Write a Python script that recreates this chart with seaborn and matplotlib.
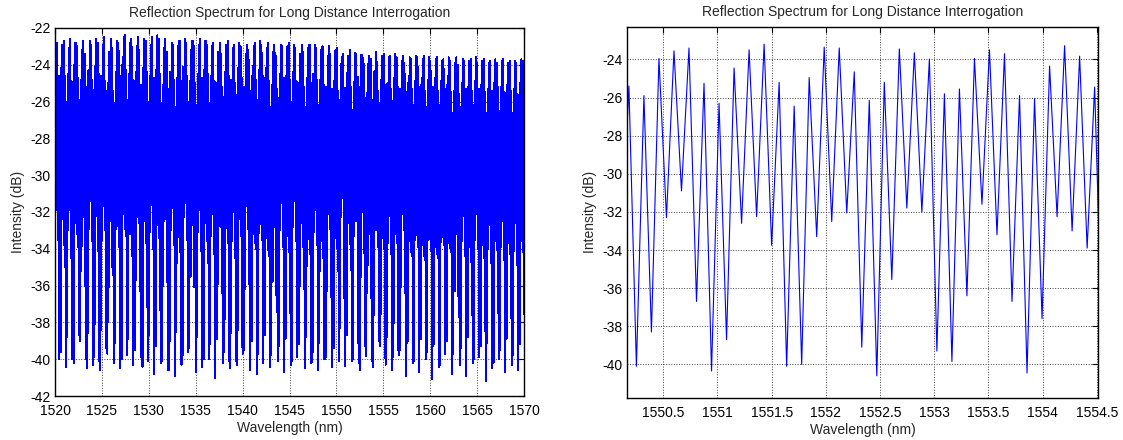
import numpy as np
import pandas as pd
import matplotlib
matplotlib.use("Agg")
import matplotlib.pyplot as plt
import seaborn as sns

#-------------1. DATA-------------

fsr_nm = 0.1386            # spacing between neighbouring fringe peaks
first_peak_nm = 1519.968   # wavelength of the first fringe peak

# peak level of every fringe (dB), one row per beat of the envelope
peaks_db = [
    -24.9, -23.0, -22.8, -24.6,
    -25.8, -24.2, -22.9, -22.7, -24.6,
    -26.0, -24.5, -23.1, -22.6, -24.9,
    -25.6, -24.0, -22.8, -23.0, -24.7,
    -25.9, -24.8, -23.2, -22.7, -23.4, -25.2,
    -26.2, -24.3, -22.7, -22.9, -24.8,
    -25.7, -24.1, -22.6, -22.8, -24.5,
    -26.0, -24.6, -22.9, -22.5, -24.9,
    -25.8, -25.0, -23.3, -22.6, -23.1, -25.4,
    -26.1, -24.4, -22.7, -22.8, -24.6,
    -25.6, -24.0, -22.5, -22.4, -24.3,
    -25.9, -24.5, -22.8, -22.6, -24.8,
    -26.2, -24.9, -23.0, -22.5, -23.2, -25.1,
    -25.7, -24.2, -22.6, -22.7, -24.4,
    -26.0, -24.6, -22.9, -22.5, -24.7,
    -25.8, -24.3, -22.4, -22.6, -24.5,
    -26.1, -25.1, -23.1, -22.6, -23.3, -25.3,
    -25.9, -24.4, -22.8, -22.9, -24.8,
    -26.3, -24.7, -23.0, -22.7, -24.9,
    -25.7, -24.1, -22.6, -22.8, -24.6,
    -26.0, -24.9, -23.2, -22.7, -23.0, -25.0,
    -26.2, -24.5, -22.9, -22.6, -24.7,
    -25.8, -24.3, -22.7, -22.9, -24.5,
    -26.1, -24.6, -23.0, -22.8, -24.9,
    -25.9, -25.0, -23.3, -22.8, -23.4, -25.2,
    -26.0, -24.4, -22.9, -22.7, -24.6,
    -26.3, -24.8, -23.1, -22.9, -25.0,
    -25.8, -24.2, -22.8, -23.0, -24.7,
    -26.1, -25.2, -23.4, -22.9, -23.2, -25.4,
    -26.2, -24.6, -23.0, -22.8, -24.8,
    -25.9, -24.3, -22.7, -22.9, -24.6,
    -26.0, -24.7, -23.1, -22.8, -24.9,
    -26.3, -25.1, -23.3, -22.9, -23.5, -25.3,
    -25.8, -24.5, -22.9, -23.0, -24.7,
    -26.1, -24.6, -23.0, -22.8, -24.8,
    -26.2, -24.4, -22.9, -23.1, -24.9,
    -25.9, -25.0, -23.4, -22.9, -23.3, -25.2,
    -26.3, -24.7, -23.1, -22.9, -25.0,
    -26.0, -24.5, -22.9, -23.1, -24.8,
    -26.2, -24.8, -23.2, -23.0, -25.1,
    -26.1, -25.2, -23.5, -23.0, -23.4, -25.3,
    -26.3, -24.9, -23.2, -23.1, -25.4,
    -25.9, -23.95, -23.55, -23.4, -25.25,
    -26.3, -24.45, -23.5, -23.2, -25.2,
    -26.45, -24.95, -23.35, -23.4, -24.65,
    -26.15, -25.2, -23.45, -23.65, -23.98,
    -25.8, -25.55, -23.95, -23.5, -23.7,
    -25.9, -26.05, -24.35, -23.28, -23.83, -25.45,
    -26.2, -24.8, -23.5, -23.4, -25.1,
    -26.4, -25.0, -23.6, -23.5, -25.3,
    -26.1, -24.7, -23.4, -23.6, -25.2,
    -26.3, -25.3, -23.8, -23.5, -23.9, -25.5,
    -26.5, -25.0, -23.6, -23.7, -25.3,
    -26.2, -24.9, -23.5, -23.6, -25.2,
    -26.4, -25.1, -23.7, -23.5, -25.4,
    -26.3, -24.8, -23.6, -23.8, -25.2,
    -26.5, -25.2, -23.7, -23.6, -25.4,
    -26.2, -24.9, -23.8, -23.7, -25.3,
    -26.4, -25.1, -23.6, -23.8, -25.5,
    -26.6, -25.4, -23.9, -23.6, -24.0, -25.6,
    -26.3, -25.0, -23.7, -23.8, -25.3,
    -26.5, -25.2, -23.8, -23.7, -25.4,
    -26.2, -24.9, -23.6, -23.9, -25.3,
    -26.4, -25.1, -23.8, -23.7, -25.5,
    -26.6, -25.3, -23.9, -23.8, -25.4,
    -26.3, -25.0, -23.7, -23.9, -25.2,
    -26.5, -25.2, -23.8, -23.7, -25.5,
    -26.4, -25.1, -23.9, -23.8, -25.4,
    -26.6, -25.3, -23.8, -23.9, -25.6,
    -26.3, -25.0, -23.7, -23.8, -25.3,
]

# level of the dip that follows each peak (dB)
troughs_db = [
    -33.0, -31.8, -33.5, -40.0,
    -39.6, -32.4, -31.5, -33.8, -40.4,
    -38.8, -33.0, -31.2, -34.5, -40.0,
    -40.2, -32.6, -31.8, -33.2, -38.7,
    -39.0, -35.2, -31.6, -32.3, -36.0, -40.5,
    -38.6, -32.9, -31.4, -33.6, -40.3,
    -39.9, -32.2, -31.0, -34.1, -40.6,
    -38.4, -33.5, -31.7, -33.0, -39.4,
    -39.7, -36.1, -31.9, -32.5, -35.4, -40.2,
    -39.1, -32.8, -31.3, -33.9, -40.5,
    -40.0, -32.1, -30.9, -33.3, -39.8,
    -38.9, -33.2, -31.5, -34.4, -40.3,
    -39.5, -35.7, -31.8, -32.6, -36.3, -39.9,
    -40.4, -32.5, -31.2, -33.7, -40.1,
    -38.7, -33.1, -31.6, -34.0, -40.8,
    -39.3, -32.7, -31.0, -33.4, -40.2,
    -40.1, -36.0, -31.7, -32.4, -35.8, -40.6,
    -39.0, -33.0, -31.4, -33.8, -40.9,
    -38.5, -33.4, -31.9, -34.2, -40.3,
    -39.8, -32.3, -31.1, -33.5, -39.6,
    -39.4, -35.5, -31.5, -32.7, -36.1, -40.7,
    -38.8, -33.1, -31.6, -34.1, -40.4,
    -40.0, -32.6, -31.2, -33.6, -40.0,
    -39.2, -33.3, -31.8, -34.3, -41.0,
    -38.9, -35.9, -31.9, -32.8, -36.4, -40.2,
    -39.6, -32.9, -31.3, -33.7, -40.5,
    -38.6, -33.6, -32.0, -34.5, -40.1,
    -40.3, -32.4, -31.4, -33.3, -39.7,
    -39.5, -36.2, -31.7, -32.9, -35.9, -40.6,
    -39.0, -33.2, -31.6, -34.0, -40.8,
    -39.7, -32.7, -31.3, -33.5, -40.2,
    -38.7, -33.4, -31.9, -34.4, -40.4,
    -39.8, -35.8, -32.0, -32.8, -36.5, -40.1,
    -39.3, -33.0, -31.5, -33.9, -40.7,
    -38.9, -33.3, -31.8, -34.2, -40.3,
    -40.1, -32.8, -31.4, -33.6, -39.9,
    -39.2, -36.0, -31.8, -32.6, -36.2, -40.5,
    -38.8, -33.5, -32.0, -34.3, -40.2,
    -39.6, -33.1, -31.6, -33.8, -40.6,
    -39.1, -33.6, -31.9, -34.5, -40.0,
    -39.9, -36.3, -32.1, -32.9, -36.6, -40.4,
    -39.4, -33.4, -31.8, -34.0, -40.1,
    -38.3, -32.3, -30.9, -36.7, -40.35,
    -38.7, -32.6, -32.25, -33.75, -40.1,
    -40.0, -33.3, -32.5, -32.05, -39.1,
    -40.6, -35.55, -31.8, -32.0, -39.3,
    -39.85, -36.4, -31.6, -33.2, -36.7,
    -40.45, -37.6, -32.25, -33.0, -33.9, -39.0,
    -39.3, -33.4, -31.9, -34.0, -40.3,
    -38.8, -33.7, -32.2, -34.3, -40.6,
    -39.9, -33.2, -31.8, -33.7, -39.8,
    -39.5, -36.1, -32.1, -33.0, -36.4, -40.9,
    -39.0, -33.6, -32.3, -34.4, -40.2,
    -40.1, -33.3, -31.9, -33.9, -40.7,
    -38.9, -33.8, -32.4, -34.6, -40.0,
    -39.6, -33.5, -32.0, -34.1, -41.1,
    -39.2, -33.9, -32.5, -34.5, -40.4,
    -40.3, -33.4, -32.1, -33.8, -39.7,
    -39.0, -33.7, -32.3, -34.2, -40.8,
    -39.7, -36.3, -32.4, -33.2, -36.6, -40.3,
    -39.4, -33.6, -32.2, -34.4, -40.9,
    -38.8, -33.9, -32.6, -34.7, -40.2,
    -40.0, -33.5, -32.1, -34.0, -39.9,
    -39.3, -33.8, -32.4, -34.5, -41.2,
    -39.1, -34.0, -32.7, -34.8, -40.5,
    -40.2, -33.6, -32.2, -34.1, -40.0,
    -39.5, -33.9, -32.5, -34.6, -40.7,
    -38.9, -33.7, -32.3, -34.3, -40.3,
    -39.8, -34.1, -32.6, -34.9, -40.6,
    -39.2, -33.6, -32.2, -34.2, -40.1,
]

panel_titles = ["Reflection Spectrum for Long Distance Interrogation"] * 2
x_label = "Wavelength (nm)"
y_label = "Intensity (dB)"

left_xlim, left_ylim = (1520, 1570), (-42, -22)
left_xticks = np.arange(1520, 1571, 5)
left_yticks = np.arange(-42, -21, 2)

right_xlim, right_ylim = (1550.165, 1554.51), (-41.75, -22.3)
right_xticks = np.arange(1550.5, 1554.51, 0.5)
right_yticks = np.arange(-40, -23, 2)

#-------------2. BUILD THE TRACE-------------
# peak, dip, peak, dip ... each dip half a fringe after its peak
n = len(peaks_db)
wl_peaks = first_peak_nm + fsr_nm * np.arange(n)
wl = np.empty(2 * n)
db = np.empty(2 * n)
wl[0::2] = wl_peaks
wl[1::2] = wl_peaks + fsr_nm / 2
db[0::2] = peaks_db
db[1::2] = troughs_db
df = pd.DataFrame({x_label: wl, y_label: db})

#-------------3. PLOT-------------
sns.set_style("white")
plt.rcParams["font.family"] = ["Liberation Sans", "DejaVu Sans"]

fig = plt.figure(figsize=(11.23, 4.4), dpi=100)
ax1 = fig.add_axes([0.049, 0.100, 0.4176, 0.8364])
ax2 = fig.add_axes([0.5583, 0.0961, 0.4194, 0.8425])

# (axes, limits, ticks, line width, antialiasing)
panels = [
    (ax1, left_xlim, left_ylim, left_xticks, left_yticks, 0.8, False),
    (ax2, right_xlim, right_ylim, right_xticks, right_yticks, 0.8, True),
]
for (ax, xlim, ylim, xt, yt, lw, aa), title in zip(panels, panel_titles):
    sns.lineplot(data=df, x=x_label, y=y_label, ax=ax, color="#0000ff",
                 linewidth=lw, antialiased=aa, estimator=None, sort=False)
    ax.set_xlim(*xlim)
    ax.set_ylim(*ylim)
    ax.set_xticks(xt)
    ax.set_yticks(yt)
    ax.set_xticklabels([f"{v:g}" for v in xt])
    ax.set_yticklabels([f"{v:g}" for v in yt])
    ax.grid(True, linestyle=":", color="0.25", linewidth=0.7)
    ax.tick_params(direction="in", top=True, right=True, length=4,
                   width=0.8, labelsize=10, colors="black")
    ax.tick_params(axis="x", pad=6)
    ax.tick_params(axis="y", pad=3)
    for s in ax.spines.values():
        s.set_color("black")
        s.set_linewidth(1.0)
    ax.set_title(title, fontsize=10, pad=8)
    ax.set_xlabel(x_label, fontsize=10, labelpad=2)
    ax.set_ylabel(y_label, fontsize=10, labelpad=4)

fig.savefig("out.png", dpi=100, facecolor="white")
